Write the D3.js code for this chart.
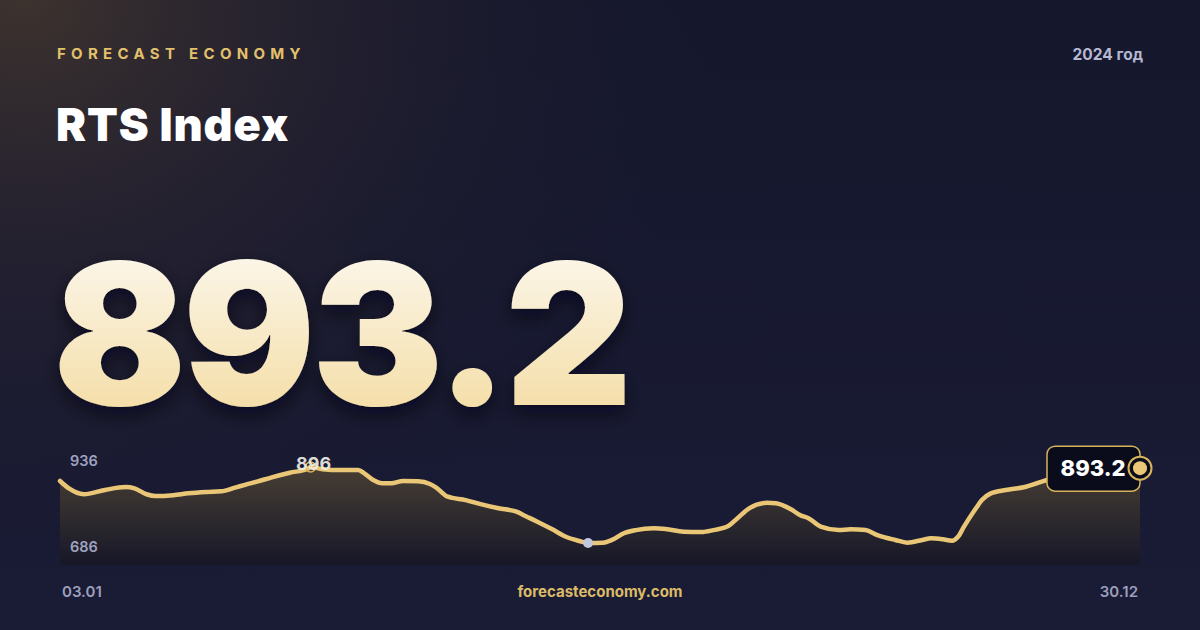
<!DOCTYPE html>
<html>
<head>
<meta charset="utf-8">
<script src="https://cdn.jsdelivr.net/npm/d3@7/dist/d3.min.js"></script>
<style>
  html, body { margin: 0; padding: 0; background: #171930; }
  svg { display: block; }
  text { font-family: Inter, "Noto Sans", sans-serif; }
</style>
</head>
<body>
<svg id="chart" width="1200" height="630"></svg>
<script>
// ---- data ----
const dates = [
  "2024-01-03","2024-01-06","2024-01-11","2024-01-18","2024-01-25","2024-01-28",
  "2024-02-01","2024-02-04","2024-02-10","2024-02-15","2024-02-21","2024-02-26",
  "2024-03-02","2024-03-05","2024-03-09","2024-03-14","2024-03-20","2024-03-26",
  "2024-03-27","2024-03-31","2024-04-06","2024-04-12","2024-04-14","2024-04-17",
  "2024-04-20","2024-04-23","2024-04-27","2024-05-02","2024-05-06","2024-05-08",
  "2024-05-12","2024-05-18","2024-05-23","2024-05-29","2024-06-04","2024-06-07",
  "2024-06-11","2024-06-16","2024-06-20","2024-06-25","2024-06-28","2024-07-03",
  "2024-07-06","2024-07-10","2024-07-14","2024-07-20","2024-07-24","2024-07-30",
  "2024-08-05","2024-08-09","2024-08-14","2024-08-17","2024-08-21","2024-08-27",
  "2024-08-30","2024-09-04","2024-09-07","2024-09-10","2024-09-14","2024-09-20",
  "2024-09-24","2024-09-29","2024-10-03","2024-10-09","2024-10-13","2024-10-18",
  "2024-10-21","2024-10-25","2024-10-28","2024-10-30","2024-11-01","2024-11-05",
  "2024-11-07","2024-11-10","2024-11-15","2024-11-21","2024-11-29","2024-12-07",
  "2024-12-15","2024-12-23","2024-12-30"
];
const values = [
  864.6, 848.0, 835.0, 844.5, 851.0, 848.0,
  835.0, 831.0, 833.0, 837.0, 840.0, 841.6,
  850.5, 856.0, 863.0, 872.8, 883.0, 892.0,
  896.0, 891.0, 889.0, 889.0, 881.7, 866.8,
  859.5, 859.5, 864.6, 864.0, 858.0, 850.5,
  829.5, 822.0, 813.0, 803.6, 796.0, 786.4,
  773.7, 756.7, 741.8, 730.6, 726.0, 727.0,
  733.0, 748.0, 755.0, 759.0, 757.4, 751.4,
  750.7, 755.0, 764.0, 781.0, 803.6, 816.0,
  814.8, 801.4, 788.7, 781.0, 762.6, 755.0,
  756.7, 755.0, 744.0, 733.0, 727.0, 733.0,
  736.7, 734.4, 731.3, 740.0, 762.6, 803.6,
  822.0, 837.0, 844.5, 850.5, 866.8, 874.0,
  882.0, 888.0, 893.2
];
const brand = "FORECAST ECONOMY";
const title = "RTS Index";
const yearLabel = "2024 год";
const lastValueLabel = "893.2";
const yTickLabels = ["936", "686"];
const xTickLabels = ["03.01", "30.12"];
const site = "forecasteconomy.com";

// ---- setup ----
const W = 1200, H = 630;
const svg = d3.select("#chart");
const defs = svg.append("defs");

// background
const bg = defs.append("linearGradient").attr("id", "bg").attr("x1", 0).attr("y1", 0).attr("x2", 0).attr("y2", 1);
bg.append("stop").attr("offset", "0%").attr("stop-color", "#15172c");
bg.append("stop").attr("offset", "100%").attr("stop-color", "#1a1b35");
const glow = defs.append("radialGradient").attr("id", "glow")
  .attr("cx", 0.02).attr("cy", 0.0).attr("r", 0.6)
  .attr("gradientUnits", "objectBoundingBox");
glow.append("stop").attr("offset", "0%").attr("stop-color", "#3f342e").attr("stop-opacity", 0.95);
glow.append("stop").attr("offset", "45%").attr("stop-color", "#2b2530").attr("stop-opacity", 0.55);
glow.append("stop").attr("offset", "100%").attr("stop-color", "#171930").attr("stop-opacity", 0);

svg.append("rect").attr("width", W).attr("height", H).attr("fill", "url(#bg)");
svg.append("rect").attr("width", W).attr("height", H).attr("fill", "url(#glow)")
  .attr("transform", "scale(1,1.6)");

// header
svg.append("text").attr("x", 57).attr("y", 59)
  .attr("fill", "#e2c16c").attr("font-size", 15).attr("font-weight", 700)
  .attr("letter-spacing", "5.3px").text(brand);
svg.append("text").attr("x", 1143).attr("y", 60).attr("text-anchor", "end")
  .attr("fill", "#b5b8d2").attr("font-size", 15.5).attr("font-weight", 700)
  .text(yearLabel);
svg.append("text").attr("x", 56).attr("y", 141)
  .attr("fill", "#ffffff").attr("font-size", 45).attr("font-weight", 900)
  .attr("letter-spacing", "0.9px").text(title);

// big number
const numGrad = defs.append("linearGradient").attr("id", "numGrad").attr("x1", 0).attr("y1", 0).attr("x2", 0).attr("y2", 1);
numGrad.append("stop").attr("offset", "0%").attr("stop-color", "#fdfcf9");
numGrad.append("stop").attr("offset", "100%").attr("stop-color", "#f3d897");
const shadow = defs.append("filter").attr("id", "shadow").attr("x", "-10%").attr("y", "-10%").attr("width", "120%").attr("height", "130%");
shadow.append("feDropShadow").attr("dx", 0).attr("dy", 8).attr("stdDeviation", 9)
  .attr("flood-color", "#05060f").attr("flood-opacity", 0.6);
svg.append("text").attr("x", 53).attr("y", 405)
  .attr("fill", "url(#numGrad)").attr("font-size", 197).attr("font-weight", 900)
  .attr("letter-spacing", "-4px").attr("filter", "url(#shadow)")
  .text(lastValueLabel);

// ---- chart ----
const parse = d3.timeParse("%Y-%m-%d");
const data = dates.map((d, i) => ({ date: parse(d), value: values[i] }));
const x = d3.scaleTime().domain(d3.extent(data, d => d.date)).range([60, 1140]);
const y = d3.scaleLinear().domain([+yTickLabels[1], +yTickLabels[0]]).range([561, 449]);
const bottom = 565;

const areaGrad = defs.append("linearGradient").attr("id", "areaGrad").attr("x1", 0).attr("y1", 0).attr("x2", 0).attr("y2", 1);
areaGrad.append("stop").attr("offset", "0%").attr("stop-color", "#4a4034").attr("stop-opacity", 0.95);
areaGrad.append("stop").attr("offset", "100%").attr("stop-color", "#161727").attr("stop-opacity", 0.95);

const curve = d3.curveMonotoneX;
svg.append("path").datum(data)
  .attr("fill", "url(#areaGrad)")
  .attr("d", d3.area().x(d => x(d.date)).y0(bottom).y1(d => y(d.value)).curve(curve));
svg.append("path").datum(data)
  .attr("fill", "none").attr("stroke", "#e9c777").attr("stroke-width", 4.5)
  .attr("stroke-linejoin", "round").attr("stroke-linecap", "round")
  .attr("d", d3.line().x(d => x(d.date)).y(d => y(d.value)).curve(curve));

// y labels
svg.append("text").attr("x", 70).attr("y", 466).attr("fill", "#9fa2c0")
  .attr("font-size", 14.5).attr("font-weight", 600).text(yTickLabels[0]);
svg.append("text").attr("x", 70).attr("y", 552).attr("fill", "#9fa2c0")
  .attr("font-size", 14.5).attr("font-weight", 600).text(yTickLabels[1]);

// max marker
const maxD = data.reduce((a, b) => b.value > a.value ? b : a);
svg.append("circle").attr("cx", x(maxD.date)).attr("cy", y(maxD.value)).attr("r", 5)
  .attr("fill", "none").attr("stroke", "#d9b25a").attr("stroke-width", 1.5);
svg.append("text").attr("x", x(maxD.date) + 3).attr("y", y(maxD.value) + 3)
  .attr("text-anchor", "middle").attr("fill", "#f2efe6").attr("fill-opacity", 0.92)
  .attr("font-size", 18).attr("font-weight", 700).text(d3.format(".0f")(maxD.value));

// min marker
const minD = data.reduce((a, b) => b.value < a.value ? b : a);
svg.append("circle").attr("cx", x(minD.date)).attr("cy", y(minD.value)).attr("r", 5)
  .attr("fill", "#c2c6de");

// last value label
const last = data[data.length - 1];
const lx = x(last.date), ly = y(last.value);
svg.append("rect").attr("x", lx - 93).attr("y", ly - 22).attr("width", 93).attr("height", 45)
  .attr("rx", 8).attr("fill", "#0b0c1b").attr("stroke", "#d7b35c").attr("stroke-width", 1.5);
svg.append("text").attr("x", lx - 47).attr("y", ly + 8).attr("text-anchor", "middle")
  .attr("fill", "#ffffff").attr("font-size", 22).attr("font-weight", 800)
  .text(lastValueLabel);
svg.append("circle").attr("cx", lx).attr("cy", ly).attr("r", 11.5)
  .attr("fill", "#0b0c1b").attr("stroke", "#d7b35c").attr("stroke-width", 2);
svg.append("circle").attr("cx", lx).attr("cy", ly).attr("r", 7).attr("fill", "#e9c777");

// footer
svg.append("text").attr("x", 62).attr("y", 597).attr("fill", "#9c9fbc")
  .attr("font-size", 15).attr("font-weight", 600).text(xTickLabels[0]);
svg.append("text").attr("x", 1138).attr("y", 597).attr("text-anchor", "end").attr("fill", "#9c9fbc")
  .attr("font-size", 15).attr("font-weight", 600).text(xTickLabels[1]);
svg.append("text").attr("x", 600).attr("y", 597).attr("text-anchor", "middle").attr("fill", "#dcbb68")
  .attr("font-size", 15).attr("font-weight", 700).text(site);
</script>
</body>
</html>
